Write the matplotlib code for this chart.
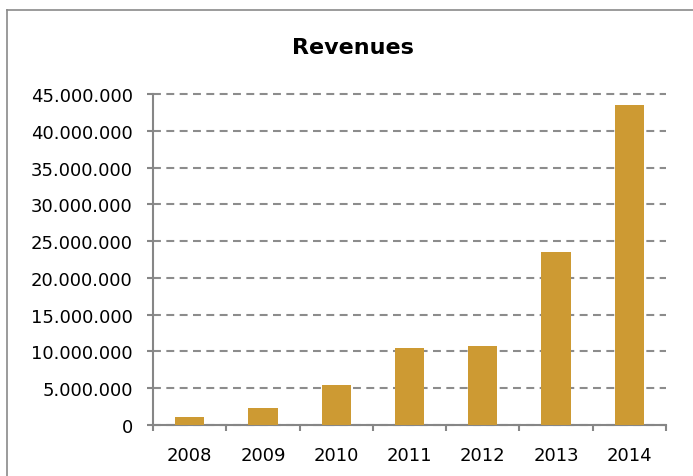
import matplotlib.pyplot as plt
from matplotlib.lines import Line2D
from matplotlib.ticker import FuncFormatter, FixedLocator
import numpy as np

years = ['2008', '2009', '2010', '2011', '2012', '2013', '2014']
revenues = [1000000, 2280000, 5410000, 10420000, 10730000, 23550000, 43600000]

bar_color = '#CD9A33'
axis_color = '#868686'
grid_color = '#8C8C8C'

plt.rcParams['font.family'] = 'DejaVu Sans'

fig = plt.figure(figsize=(6.93, 4.77), dpi=100)
ax = fig.add_axes([153 / 693, 1 - 425.7 / 477, (666 - 153) / 693, (425.7 - 95.3) / 477])

x = np.arange(len(years))
ax.bar(x, revenues, width=0.4, color=bar_color, zorder=3)

ax.set_xlim(-0.5, len(years) - 0.5)
ax.set_ylim(0, 45000000)
ax.set_yticks(np.arange(0, 45000001, 5000000))
ax.yaxis.set_major_formatter(FuncFormatter(lambda v, p: f'{int(v):,}'.replace(',', '.')))

# category boundaries get the tick marks, labels sit in between
ax.xaxis.set_major_locator(FixedLocator(np.arange(-0.5, len(years), 1.0)))
ax.xaxis.set_minor_locator(FixedLocator(x))
ax.set_xticklabels([''] * (len(years) + 1))
ax.set_xticklabels(years, minor=True)
ax.tick_params(axis='x', which='major', length=4.3, width=1.5, color=axis_color)
ax.tick_params(axis='x', which='minor', length=0, pad=15.5, labelsize=13)
ax.tick_params(axis='y', length=4, width=1.5, color=axis_color, pad=10.5, labelsize=13)

for side in ['top', 'right']:
    ax.spines[side].set_visible(False)
for side in ['left', 'bottom']:
    ax.spines[side].set_color(axis_color)
    ax.spines[side].set_linewidth(1.5)

ax.yaxis.grid(True, color=grid_color, linewidth=1.5, linestyle=(0, (3.8, 2.6)), zorder=0)
ax.set_axisbelow(True)
for gl in ax.get_ygridlines():
    gl.set_clip_on(False)

fig.text(353 / 693, 1 - 48 / 477, 'Revenues', ha='center', va='center',
         fontsize=16, fontweight='bold')

# chart frame (cut off at right and bottom)
fig.add_artist(Line2D([7 / 693, 7 / 693], [0, 1 - 11 / 477], color='#8A8A8A', lw=1.2))
fig.add_artist(Line2D([7 / 693, 1], [1 - 11 / 477, 1 - 11 / 477], color='#8A8A8A', lw=1.2))

fig.savefig('out.png', dpi=100)
